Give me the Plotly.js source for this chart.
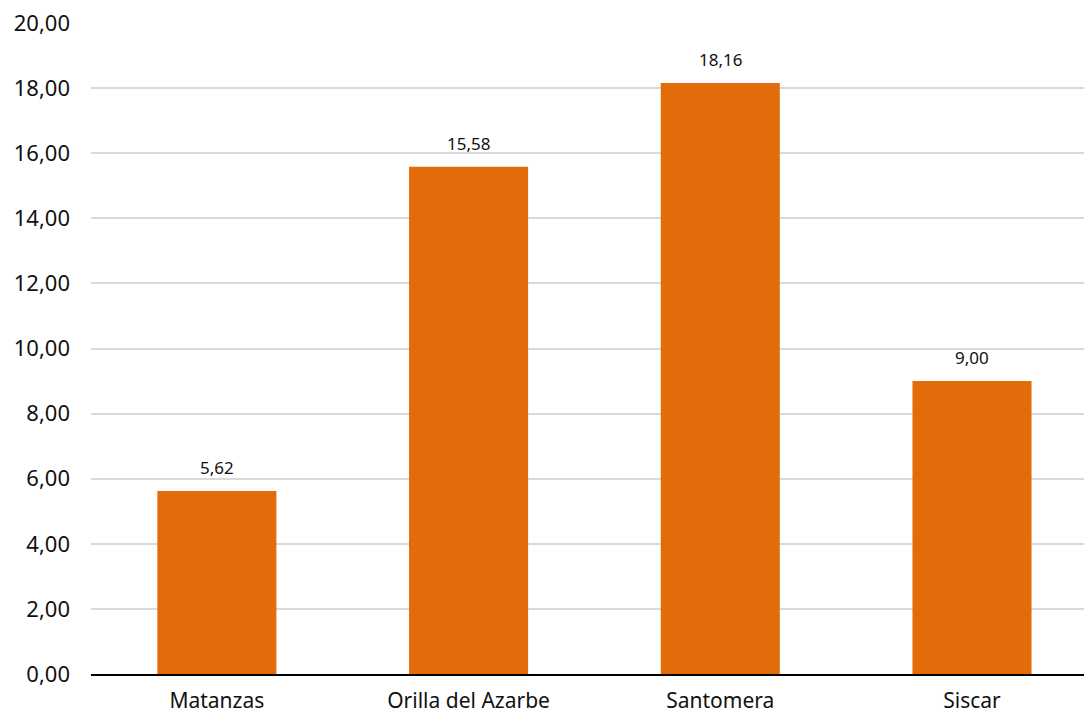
<!DOCTYPE html>
<html>
<head>
<meta charset="utf-8">
<script src="https://cdn.plot.ly/plotly-3.0.1.min.js"></script>
<style>html,body{margin:0;padding:0;background:#fff;}#chart{width:1084px;height:713px;}</style>
</head>
<body>
<div id="chart"></div>
<script>
var categories = ["Matanzas", "Orilla del Azarbe", "Santomera", "Siscar"];
var values = [5.62, 15.58, 18.16, 9.00];
var yTicks = [0, 2, 4, 6, 8, 10, 12, 14, 16, 18, 20];

var FONT = "Noto Sans, DejaVu Sans, sans-serif";

var trace = {
  type: "bar",
  x: categories,
  y: values,
  marker: {color: "#E36C0A"},
  hoverinfo: "x+y"
};

var annotations = categories.map(function (c, i) {
  return {
    x: c, y: values[i], xref: "x", yref: "y",
    text: values[i].toFixed(2).replace(".", ","),
    showarrow: false, yanchor: "bottom", yshift: 10,
    font: {family: FONT, size: 17, color: "#111"}
  };
});

var layout = {
  width: 1084, height: 713,
  margin: {l: 91, r: 0, t: 23, b: 39},
  paper_bgcolor: "#fff", plot_bgcolor: "#fff",
  separators: ",.",
  bargap: 0.527,
  showlegend: false,
  font: {family: FONT, size: 22, color: "#111"},
  xaxis: {
    range: [-0.5, 3.445],
    showgrid: false, showline: true, linecolor: "#000", linewidth: 2,
    ticks: "", tickfont: {family: FONT, size: 21, color: "#111"},
    ticklabelstandoff: 7
  },
  yaxis: {
    range: [0, 20], tickvals: yTicks, tickformat: ".2f",
    showgrid: true, gridcolor: "#d9d9d9", gridwidth: 2,
    zeroline: false, showline: false, ticks: "",
    tickfont: {family: FONT, size: 22, color: "#111"},
    ticklabelstandoff: 20
  },
  annotations: annotations
};

Plotly.newPlot("chart", [trace], layout, {displayModeBar: false, staticPlot: true});
</script>
</body>
</html>
